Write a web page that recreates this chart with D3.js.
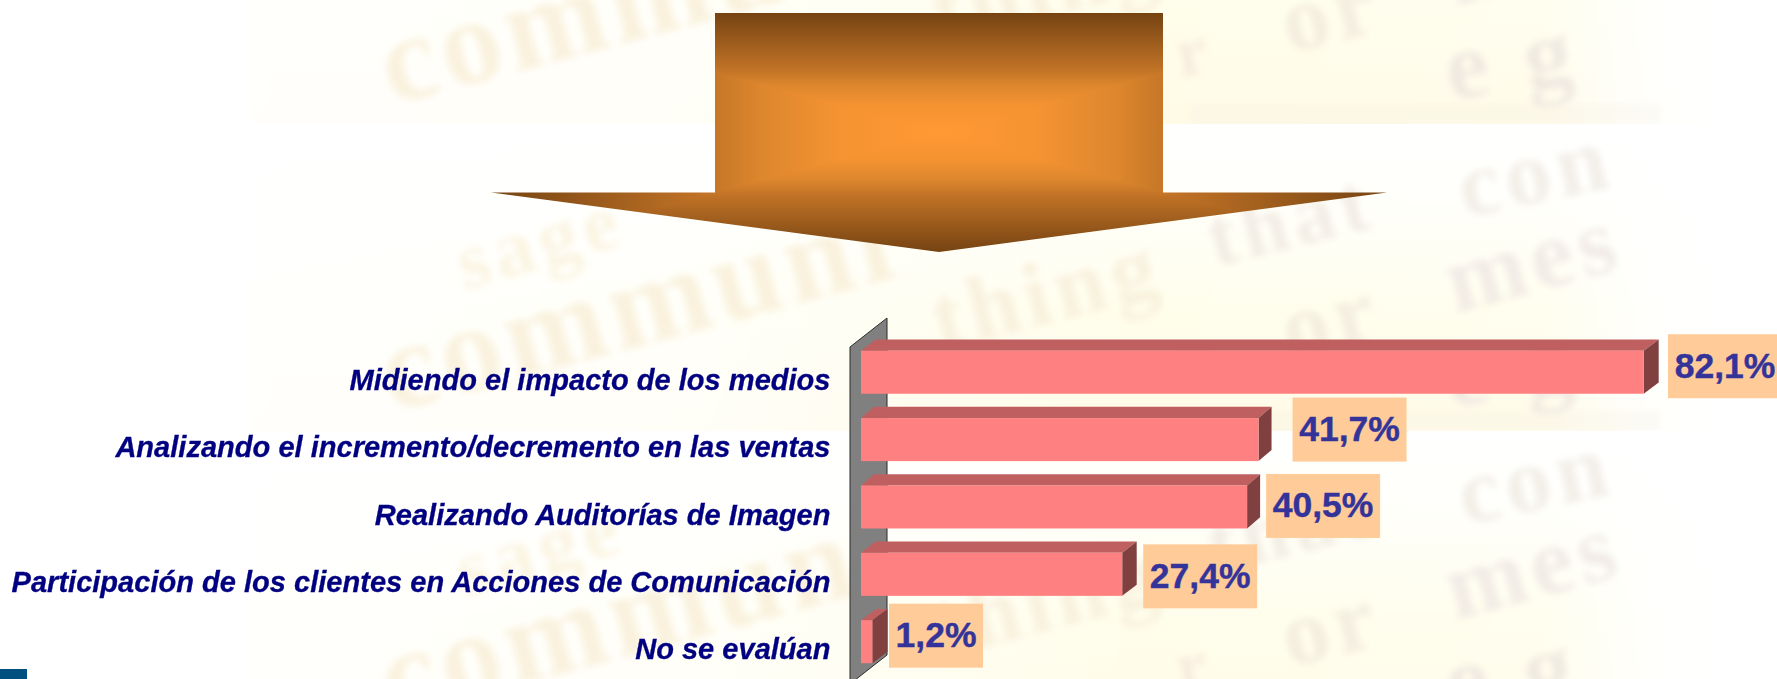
<!DOCTYPE html>
<html>
<head>
<meta charset="utf-8">
<script src="https://cdn.jsdelivr.net/npm/d3@7/dist/d3.min.js"></script>
<style>
html,body{margin:0;padding:0;background:#fff;overflow:hidden}
svg{display:block}
</style>
</head>
<body>
<script>
// ---- data ----
const categories = [
  "Midiendo el impacto de los medios",
  "Analizando el incremento/decremento en las ventas",
  "Realizando Auditorías de Imagen",
  "Participación de los clientes en Acciones de Comunicación",
  "No se evalúan"
];
const values = [82.1, 41.7, 40.5, 27.4, 1.2];
const valueLabels = ["82,1%", "41,7%", "40,5%", "27,4%", "1,2%"];

// ---- hand placement seen in the picture ----
const barDepth = [15, 13, 13, 14.5, 15];
const labelGapX = [24.3, 34, 19, 21, 16.6];
const labelShiftY = [-6, -10, -1, 2, -6];

// ---- faded background words of the wallpaper tile ----
const bgWords = ["communi", "sage", "thing", "that", "con", "mes", "or", "e g", "r"];
const bgX = [392, 465, 940, 1215, 1465, 1455, 1290, 1450, 1180];
const bgY = [288, 166, 226, 143, 94, 189, 236, 283, 260];
const bgSize = [122, 80, 92, 84, 92, 96, 92, 96, 70];
const bgAngle = [-15, -16, -14, -14, -12, -15, -14, -8, -10];
const bgFill = ["#f8eed6", "#f9f1da", "#f6edd8", "#efe8e0", "#efe9e2", "#eee6e2", "#f0e9dc", "#ebe4de", "#f4e6dc"];

const W = 1777, H = 679;
const svg = d3.select("body").append("svg").attr("width", W).attr("height", H);
const defs = svg.append("defs");

svg.append("rect").attr("width", W).attr("height", H).attr("fill", "#fff");

// ---- wallpaper ----
const tileH = 307, tileX = 251, tileW = 1470, tileTops = [-183, 124, 431];
const v = defs.append("linearGradient").attr("id", "tileV").attr("x1", 0).attr("y1", 0).attr("x2", 0).attr("y2", 1);
[[0, "#ffffff"], [0.22, "#fffffb"], [0.6, "#fffeec"], [1, "#fffbe6"]].forEach(s => v.append("stop").attr("offset", s[0]).attr("stop-color", s[1]));
const h = defs.append("linearGradient").attr("id", "tileH").attr("gradientUnits", "userSpaceOnUse")
  .attr("x1", tileX).attr("x2", tileX + tileW).attr("y1", 0).attr("y2", 0);
[[0, .16], [.3, .32], [.6, 1], [.88, .85], [.95, .15], [1, 0]].forEach(s =>
  h.append("stop").attr("offset", s[0]).attr("stop-color", "#fff").attr("stop-opacity", s[1]));
defs.append("mask").attr("id", "tileMask").attr("maskUnits", "userSpaceOnUse")
  .attr("x", 0).attr("y", -400).attr("width", W).attr("height", 1600)
  .append("rect").attr("x", 0).attr("y", -400).attr("width", W).attr("height", 1600).attr("fill", "url(#tileH)");
defs.append("filter").attr("id", "soft").attr("x", "-20%").attr("y", "-20%").attr("width", "140%").attr("height", "140%")
  .append("feGaussianBlur").attr("stdDeviation", 3.8);
defs.append("clipPath").attr("id", "tileClip").append("rect").attr("x", tileX).attr("y", 0).attr("width", tileW).attr("height", tileH);

const paper = svg.append("g").attr("mask", "url(#tileMask)").selectAll("g").data(tileTops).join("g")
  .attr("transform", d => `translate(0,${d})`);
paper.append("rect").attr("x", tileX).attr("width", tileW).attr("height", tileH).attr("fill", "url(#tileV)");

const inked = svg.append("g").attr("opacity", .78).selectAll("g").data(tileTops).join("g")
  .attr("transform", d => `translate(0,${d})`)
  .append("g").attr("clip-path", "url(#tileClip)");
inked.append("rect").attr("x", 1190).attr("y", 287).attr("width", 470).attr("height", 20)
  .attr("fill", "#f1ecdf").attr("opacity", .3).attr("filter", "url(#soft)");
inked.append("g").attr("filter", "url(#soft)").attr("aria-hidden", "true").selectAll("text").data(bgWords).join("text")
  .attr("transform", (d, i) => `translate(${bgX[i]},${bgY[i]}) rotate(${bgAngle[i]})`)
  .attr("font-family", "'Liberation Serif',serif").attr("font-weight", "bold")
  .attr("font-size", (d, i) => bgSize[i])
  .attr("letter-spacing", 6)
  .attr("fill", (d, i) => bgFill[i])
  .text(d => d);

// ---- arrow with a rectangular (path) gradient ----
const ax = {l: 491, r: 1387, t: 13, b: 252, cx: 939, cy: 132.5};
const shaftL = 715, shaftR = 1163, shoulder = 192.6;
const arrowLine = d3.line();
defs.append("clipPath").attr("id", "arrowClip").append("path").attr("d", arrowLine([
  [shaftL, ax.t], [shaftR, ax.t], [shaftR, shoulder], [ax.r, shoulder],
  [ax.cx, ax.b], [ax.l, shoulder], [shaftL, shoulder]
]) + "Z");
const sides = [
  {id: "gT", g: [ax.cx, ax.t, ax.cx, ax.cy], p: [[ax.l, ax.t], [ax.r, ax.t], [ax.cx, ax.cy]]},
  {id: "gB", g: [ax.cx, ax.b, ax.cx, ax.cy], p: [[ax.l, ax.b], [ax.r, ax.b], [ax.cx, ax.cy]]},
  {id: "gL", g: [ax.l, ax.cy, ax.cx, ax.cy], p: [[ax.l, ax.t], [ax.l, ax.b], [ax.cx, ax.cy]]},
  {id: "gR", g: [ax.r, ax.cy, ax.cx, ax.cy], p: [[ax.r, ax.t], [ax.r, ax.b], [ax.cx, ax.cy]]}
];
const arrowStops = [[0, "#754312"], [.47, "#c07226"], [.6, "#dc862d"], [.78, "#f59332"], [1, "#ff9933"]];
sides.forEach(s => {
  const lg = defs.append("linearGradient").attr("id", s.id).attr("gradientUnits", "userSpaceOnUse")
    .attr("x1", s.g[0]).attr("y1", s.g[1]).attr("x2", s.g[2]).attr("y2", s.g[3]);
  arrowStops.forEach(a => lg.append("stop").attr("offset", a[0]).attr("stop-color", a[1]));
});
svg.append("g").attr("clip-path", "url(#arrowClip)").selectAll("path").data(sides).join("path")
  .attr("d", d => arrowLine(d.p) + "Z")
  .attr("fill", d => `url(#${d.id})`)
  .attr("shape-rendering", "crispEdges");

// ---- scales ----
const x = d3.scaleLinear().domain([0, 82.1]).range([861, 1643.7]);
const y = d3.scaleBand().domain(categories).range([350.7, 663.2]).paddingInner(0.361).paddingOuter(0);
const bw = y.bandwidth(), rise = 11.2;

// ---- back wall of the 3-D chart ----
const wallL = 850, wallR = 887;
svg.append("path")
  .attr("d", arrowLine([[wallL, 347], [wallR, 318], [wallR, 655], [wallL, 684]]) + "Z")
  .attr("fill", "#808080").attr("stroke", "#2b2b2b").attr("stroke-width", 1);

// ---- 3-D bars ----
const bars = svg.append("g").selectAll("g").data(categories).join("g");
const X0 = x(0);
bars.append("path").attr("fill", "#bf5f5f").attr("d", (c, i) => {
  const t = y(c), r = x(values[i]), d = barDepth[i];
  return arrowLine([[X0, t], [X0 + d, t - rise], [r + d, t - rise], [r, t]]) + "Z";
});
bars.append("path").attr("fill", "#804040").attr("d", (c, i) => {
  const t = y(c), r = x(values[i]), d = barDepth[i];
  return arrowLine([[r, t], [r + d, t - rise], [r + d, t + bw - rise], [r, t + bw]]) + "Z";
});
bars.append("rect").attr("fill", "#ff8080")
  .attr("x", X0).attr("y", c => y(c))
  .attr("width", (c, i) => x(values[i]) - X0).attr("height", bw);

// ---- category axis ----
const axis = svg.append("g").attr("transform", "translate(830.5,0)")
  .call(d3.axisLeft(y).tickSize(0).tickPadding(0));
axis.select(".domain").remove();
axis.selectAll("text")
  .attr("font-family", "'Liberation Sans',Arial,sans-serif")
  .attr("font-weight", "bold").attr("font-style", "italic")
  .attr("font-size", 29.05).attr("fill", "#000080")
  .attr("stroke", "#000080").attr("stroke-width", .3)
  .attr("dy", 0).attr("y", 17.8);

// ---- value labels ----
const labels = svg.append("g").selectAll("g").data(categories).join("g")
  .attr("transform", (c, i) => `translate(${x(values[i]) + labelGapX[i]},${y(c) + bw / 2 + labelShiftY[i] - 32})`);
const boxW = i => valueLabels[i].length === 5 ? 114 : 94;
labels.append("rect").attr("width", (c, i) => boxW(i)).attr("height", 64).attr("fill", "#ffcc99");
labels.append("text")
  .attr("x", (c, i) => boxW(i) / 2).attr("y", 43.3).attr("text-anchor", "middle")
  .attr("font-family", "'Liberation Sans',Arial,sans-serif").attr("font-weight", "bold")
  .attr("font-size", 35.5).attr("fill", "#333399")
  .attr("stroke", "#333399").attr("stroke-width", .4)
  .text((c, i) => valueLabels[i]);

// ---- slide footer block ----
svg.append("rect").attr("x", 0).attr("y", 669).attr("width", 27).attr("height", 10).attr("fill", "#00507f");
</script>
</body>
</html>
